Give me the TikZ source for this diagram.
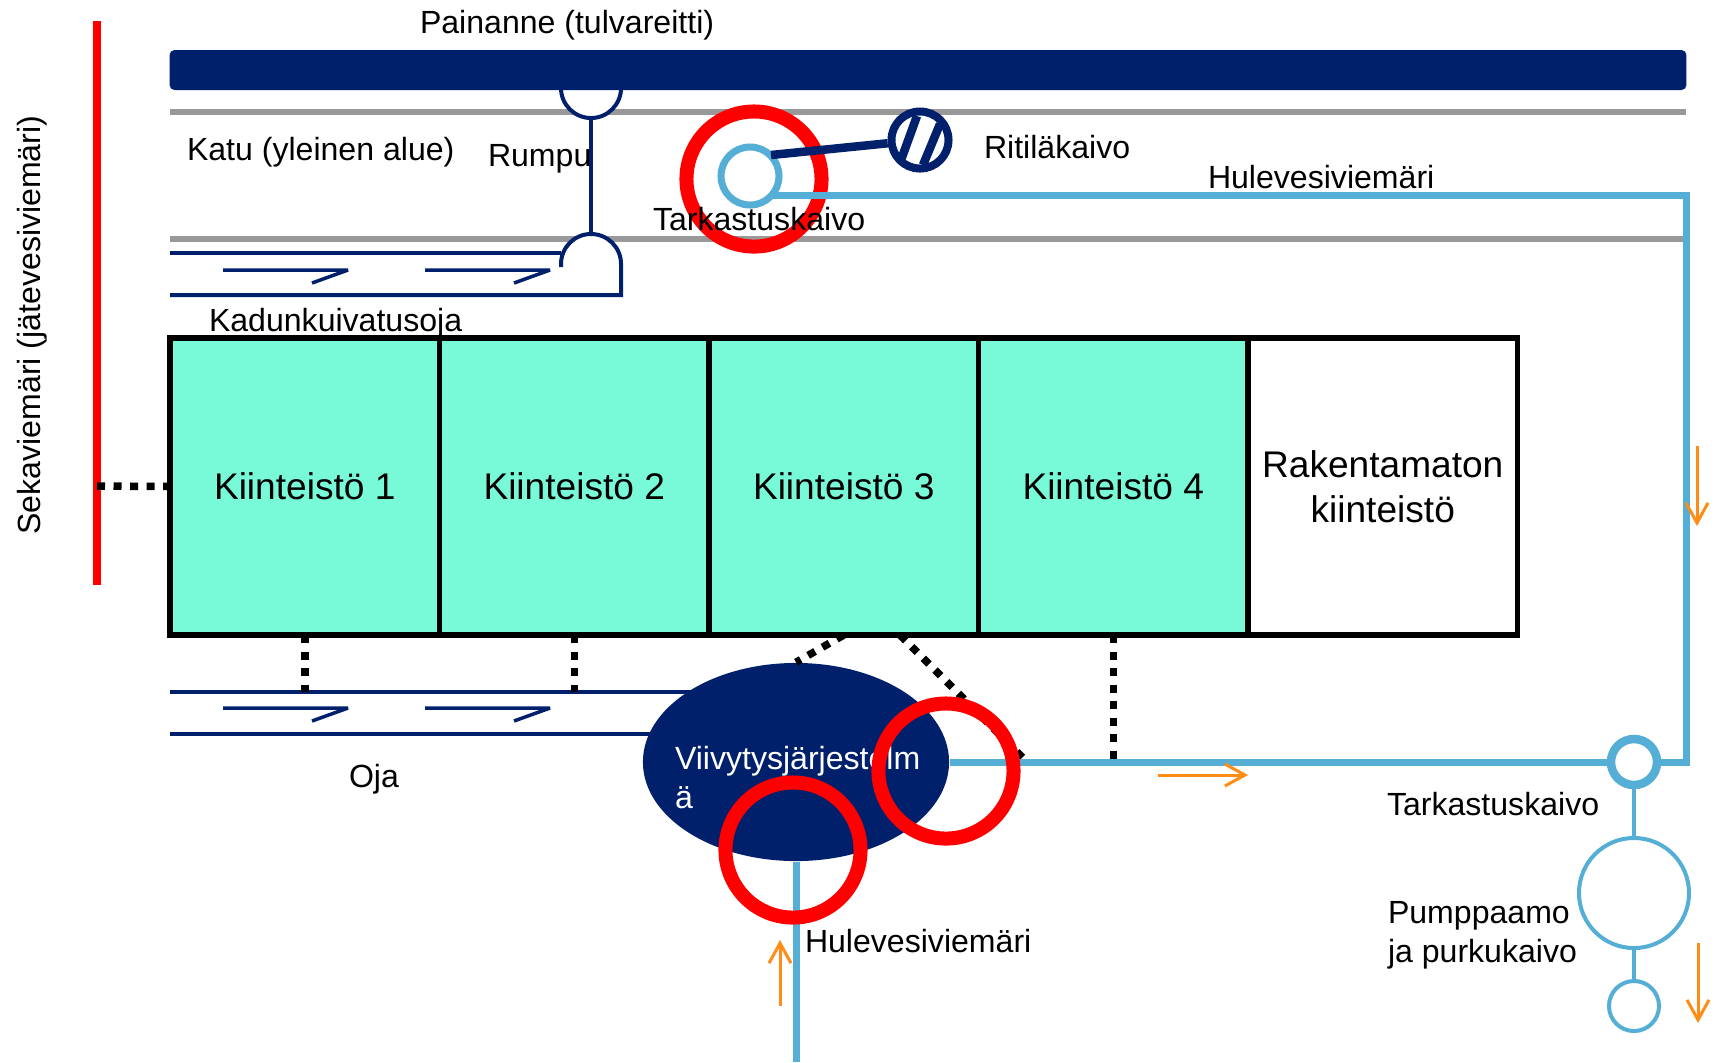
\documentclass[tikz,border=0pt]{standalone}
\usepackage{fontspec}
\setmainfont{Liberation Sans}
\usetikzlibrary{arrows.meta,shapes.geometric}
\definecolor{navy}{HTML}{00206C}
\definecolor{stormblue}{HTML}{55AED6}
\definecolor{lotgreen}{HTML}{78FAD8}
\definecolor{flowarrow}{HTML}{FF8C14}
\definecolor{roadgrey}{HTML}{999999}
\tikzset{
  lot/.style={rectangle, draw=black, fill=lotgreen, line width=0.055cm, minimum width=2.695cm, minimum height=2.97cm, inner sep=0pt, outer sep=0pt, align=center, font=\fontsize{10.55}{12.75}\selectfont},
  lbl/.style={anchor=base west, inner sep=0pt, outer sep=0pt, align=left, font=\fontsize{9.12}{10.9}\selectfont},
  redring/.style={circle, draw=red, line width=0.14cm, minimum size=1.35cm, inner sep=0pt},
  well/.style={circle, draw=stormblue, fill=white, line width=0.04cm, inner sep=0pt},
  stormpipe/.style={draw=stormblue, line width=0.07cm},
  thinpipe/.style={draw=stormblue, line width=0.04cm},
  ditch/.style={draw=navy, line width=0.035cm, line join=bevel},
  culvert/.style={draw=navy, line width=0.04cm},
  grate/.style={navy, line width=0.085cm},
  roadline/.style={draw=roadgrey, line width=0.055cm},
  sewerdots/.style={draw=black, line width=0.075cm, dash pattern=on 0.08cm off 0.085cm},
  flow/.style={draw=flowarrow, line width=0.03cm, -{Straight Barb[length=0.2cm,width=0.22cm]}}
}
\begin{document}
\begin{tikzpicture}[x=0.01cm, y=-0.01cm]
  \useasboundingbox (0,0) rectangle (1717,1062);

  % road and culvert
  \coordinate (roadAw) at (170,112);
  \coordinate (roadAe) at (1686,112);
  \coordinate (roadBw) at (170,239);
  \coordinate (roadBe) at (1686,239);
  \draw[roadline] (roadAw) -- (roadAe);
  \draw[roadline] (roadBw) -- (roadBe);
  \draw[culvert, fill=white] (561,88) arc[start angle=180, end angle=360, radius=0.3cm];
  \node[rectangle, fill=navy, rounded corners=0.05cm, minimum width=15.16cm, minimum height=0.4cm, inner sep=0pt] (painanne) at (928,70) {};
  \node[lbl] (painanneText) at (420,33) {Painanne (tulvareitti)};
  \coordinate (rumpuTop) at (591,120);
  \coordinate (rumpuBot) at (591,233);
  \draw[culvert] (rumpuTop) -- (rumpuBot);
  \coordinate (channelTop) at (170,253);
  \coordinate (channelEnd) at (561,253);
  \coordinate (channelBot) at (170,295);
  \draw[ditch] (channelTop) -- (channelEnd);
  \draw[culvert, fill=white] (561,267) -- (561,264) arc[start angle=180, end angle=0, radius=0.3cm] -- (621,295) -- (channelBot);
  \foreach \ax/\ay in {223/270, 425/270, 223/708, 425/708}
    \draw[ditch] (\ax,\ay) -- +(125,0) -- +(89,13);

  % drains in the street
  \node[redring] (ringTop) at (754,179) {};
  \node[circle, draw=stormblue, fill=white, line width=0.07cm, minimum size=0.58cm, inner sep=0pt] (tarkTop) at (750,176) {};
  \node[circle, draw=navy, fill=white, line width=0.08cm, minimum size=0.57cm, inner sep=0pt] (ritila) at (920,140) {};
  \coordinate (stripeA1) at (901,160);
  \coordinate (stripeA2) at (917,116);
  \coordinate (stripeB1) at (923,165);
  \coordinate (stripeB2) at (940,124);
  \draw[grate] (stripeA1) -- (stripeA2);
  \draw[grate] (stripeB1) -- (stripeB2);
  \draw[grate] (771,155) -- (ritila);
  \coordinate (corner) at (1686,195);
  \coordinate (cornerLow) at (1686,762);
  \draw[stormpipe, line join=miter] (771,195) -- (corner) -- (cornerLow) -- (1660,762);

  % lots
  \node[lot] (kiint1) at (304.75,486.5) {Kiinteistö 1};
  \node[lot] (kiint2) at (574.25,486.5) {Kiinteistö 2};
  \node[lot] (kiint3) at (843.75,486.5) {Kiinteistö 3};
  \node[lot] (kiint4) at (1113.25,486.5) {Kiinteistö 4};
  \node[lot, fill=white] (rakentamaton) at (1382.75,486.5) {Rakentamaton\\kiinteistö};

  % combined sewer
  \coordinate (sekaTop) at (97,21);
  \coordinate (sekaBot) at (97,585);
  \coordinate (sekaJoin) at (97,486);
  \draw[red, line width=0.07cm] (sekaTop) -- (sekaBot);
  \draw[sewerdots] (sekaJoin) -- (kiint1.west);

  % ditch and retention
  \coordinate (ojaTopW) at (170,692);
  \coordinate (ojaTopE) at (700,692);
  \coordinate (ojaBotW) at (170,734);
  \coordinate (ojaBotE) at (660,734);
  \draw[ditch] (ojaTopW) -- (ojaTopE);
  \draw[ditch] (ojaBotW) -- (ojaBotE);
  \coordinate (join1) at (304.75,692);
  \coordinate (join2) at (574.25,692);
  \coordinate (join4) at (1113.25,762);
  \coordinate (lot3off) at (900,635);
  \coordinate (pipeoff) at (1027,762);
  \draw[sewerdots] (kiint1.south) -- (join1);
  \draw[sewerdots] (kiint2.south) -- (join2);
  \draw[sewerdots] (kiint4.south) -- (join4);
  \draw[sewerdots] (lot3off) -- (pipeoff);
  \node[ellipse, fill=navy, minimum width=3.06cm, minimum height=1.98cm, inner sep=0pt] (viivytys) at (796,762) {};
  \draw[sewerdots] (kiint3.south) -- (viivytys.north);
  \node[lbl, text=white] (viivytysText) at (675,808) {Viivytysjärjestelm\\ä};

  % pipes, pump station
  \coordinate (pipeIn) at (796,1062);
  \draw[stormpipe] (viivytys.south) -- (pipeIn);
  \node[circle, draw=stormblue, fill=white, line width=0.085cm, minimum size=0.46cm, inner sep=0pt] (tarkLow) at (1634,762) {};
  \draw[stormpipe] (viivytys.east) -- (tarkLow);
  \draw[stormpipe] (tarkLow) -- (cornerLow);
  \node[well, minimum size=1.1cm] (pumppaamo) at (1634,893) {};
  \node[well, minimum size=0.5cm] (purkukaivo) at (1634,1006) {};
  \draw[thinpipe] (tarkLow) -- (pumppaamo);
  \draw[thinpipe] (pumppaamo) -- (purkukaivo);

  % flow direction
  \coordinate (flowA1) at (1697,446);
  \coordinate (flowA2) at (1697,526);
  \coordinate (flowB1) at (1158,775);
  \coordinate (flowB2) at (1248,775);
  \coordinate (flowC1) at (780,1006);
  \coordinate (flowC2) at (780,940);
  \coordinate (flowD1) at (1698,943);
  \coordinate (flowD2) at (1698,1023);
  \draw[flow] (flowA1) -- (flowA2);
  \draw[flow] (flowB1) -- (flowB2);
  \draw[flow] (flowC1) -- (flowC2);
  \draw[flow] (flowD1) -- (flowD2);

  % rings over the retention
  \node[redring] (ringEast) at (946,771) {};
  \node[redring] (ringSouth) at (793,850) {};

  % labels
  \node[lbl] (katu) at (187,160) {Katu (yleinen alue)};
  \node[lbl] (rumpu) at (488,166) {Rumpu};
  \node[lbl] (tarkText) at (653,230) {Tarkastuskaivo};
  \node[lbl] (ritilaText) at (984,158) {Ritiläkaivo};
  \node[lbl] (huleText) at (1208,188) {Hulevesiviemäri};
  \node[lbl] (kaduText) at (209,331) {Kadunkuivatusoja};
  \node[lbl] (oja) at (349,787) {Oja};
  \node[lbl] (huleLow) at (805,952) {Hulevesiviemäri};
  \node[lbl] (tarkLowText) at (1387,815) {Tarkastuskaivo};
  \node[lbl] (pumppuText) at (1388,962) {Pumppaamo\\ja purkukaivo};
  \node[lbl, anchor=base, rotate=90] (sekaText) at (41,325) {Sekaviemäri (jätevesiviemäri)};
\end{tikzpicture}
\end{document}
